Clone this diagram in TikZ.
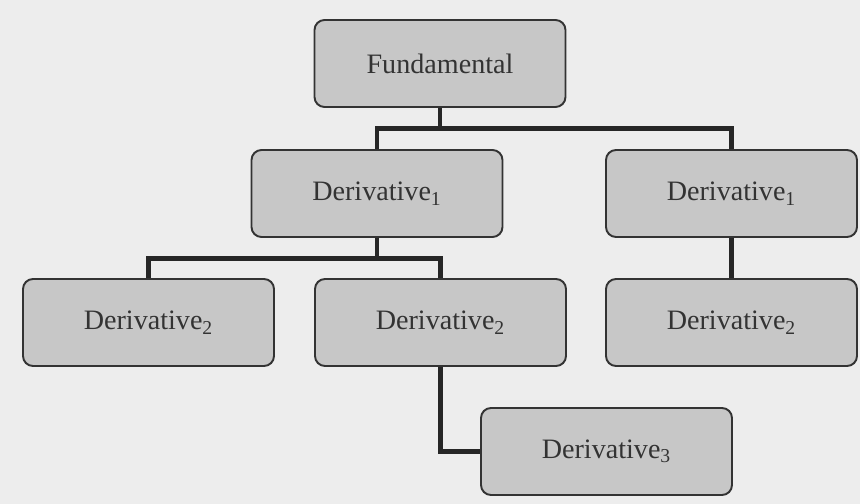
\documentclass[tikz,border=0pt]{standalone}
\usepackage{fontspec}
\setmainfont{Liberation Serif}
\definecolor{pagegray}{gray}{0.93}
\definecolor{boxgray}{gray}{0.78}
\definecolor{inkgray}{gray}{0.2}
\tikzset{
  level/.style={draw=inkgray,line width=1.1pt,fill=boxgray,rounded corners=0.2cm,
    minimum width=5.02cm,minimum height=1.74cm,font=\fontsize{16}{18}\selectfont,text=inkgray},
  link/.style={line width=2.8pt,draw=black!85}
}
\begin{document}
\begin{tikzpicture}
  \fill[pagegray] (0,0) rectangle (17.2,10.08);
  \useasboundingbox (0,0) rectangle (17.2,10.08);
  \node[level] (fund) at (8.8,8.81) {Fundamental};
  \node[level] (d1a) at (7.54,6.21) {Derivative\textsubscript{1}};
  \node[level] (d1b) at (14.63,6.21) {Derivative\textsubscript{1}};
  \node[level] (d2a) at (2.97,3.63) {Derivative\textsubscript{2}};
  \node[level] (d2b) at (8.81,3.63) {Derivative\textsubscript{2}};
  \node[level] (d2c) at (14.63,3.63) {Derivative\textsubscript{2}};
  \node[level] (d3) at (12.13,1.05) {Derivative\textsubscript{3}};
  % tree links
  \draw[link] (fund.south) -- ++(0,-0.42) coordinate (fbar) -| (d1a.north);
  \draw[link] (fbar) -| (d1b.north);
  \draw[link] (d1b.south) -- (d2c.north);
  \draw[link] (d1a.south) -- ++(0,-0.42) coordinate (dbar) -| (d2a.north);
  \draw[link] (dbar) -| (d2b.north);
  \draw[link] (d2b.south) |- (d3.west);
\end{tikzpicture}
\end{document}
